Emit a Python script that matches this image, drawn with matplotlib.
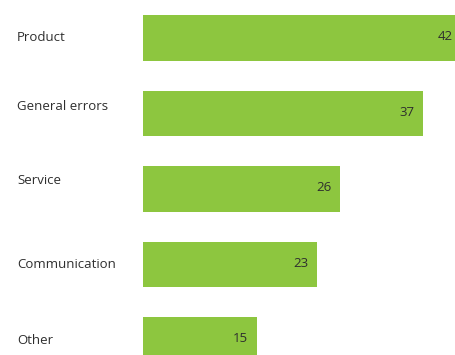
import matplotlib.pyplot as plt

categories = ["Product", "General errors", "Service", "Communication", "Other"]
counts = [42, 37, 26, 23, 15]

BAR_COLOR = "#8dc63f"
TEXT_COLOR = "#2e2e2e"
# small vertical nudges (points) for the category labels, as in the source
label_nudge = [0, 5, 6, 0, 0]

plt.rcParams["font.family"] = ["Open Sans", "DejaVu Sans"]

fig = plt.figure(figsize=(4.55, 3.55), dpi=100)
ax = fig.add_axes((143 / 455, 0.0, 312 / 455, 1.0))

ypos = list(range(len(categories)))
bars = ax.barh(ypos, counts, height=0.605, color=BAR_COLOR, clip_on=True)

ax.set_xlim(0, 41.2)
ax.set_ylim(4.196, -0.5)

for rect, val in zip(bars, counts):
    ax.annotate(
        f"{val}",
        xy=(rect.get_width(), rect.get_y() + rect.get_height() / 2),
        xytext=(-6, 1),
        textcoords="offset points",
        ha="right",
        va="center",
        fontsize=9.5,
        color=TEXT_COLOR,
        annotation_clip=False,
        clip_on=True,
    )

for y, name, dy in zip(ypos, categories, label_nudge):
    ax.annotate(
        name,
        xy=(17 / 455, y),
        xycoords=("figure fraction", "data"),
        xytext=(0, dy),
        textcoords="offset points",
        ha="left",
        va="center",
        fontsize=9.5,
        color=TEXT_COLOR,
    )

ax.axis("off")
fig.savefig("out.png", dpi=100)
